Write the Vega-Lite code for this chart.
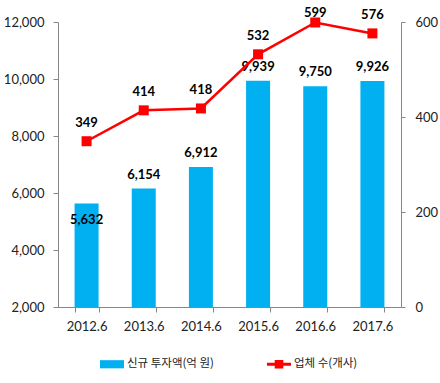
{
  "$schema": "https://vega.github.io/schema/vega-lite/v6.json",
  "width": 343,
  "height": 285,
  "autosize": {"type": "none"},
  "padding": {"left": 58, "top": 22, "right": 39, "bottom": 76},
  "data": {"values": [
    {"period": "2012.6", "invest": 5632, "firms": 349},
    {"period": "2013.6", "invest": 6154, "firms": 414},
    {"period": "2014.6", "invest": 6912, "firms": 418},
    {"period": "2015.6", "invest": 9939, "firms": 532},
    {"period": "2016.6", "invest": 9750, "firms": 599},
    {"period": "2017.6", "invest": 9926, "firms": 576}
  ]},
  "encoding": {
    "x": {
      "field": "period", "type": "nominal", "title": null,
      "scale": {"paddingInner": 0.58, "paddingOuter": 0.29},
      "axis": {"labelAngle": 0, "tickBand": "extent", "tickSize": 5, "labelPadding": 8, "domainColor": "#868686", "tickColor": "#868686"}
    }
  },
  "layer": [
    {
      "encoding": {
        "y": {
          "field": "invest", "type": "quantitative", "title": null,
          "scale": {"domain": [2000, 12000], "zero": false, "nice": false},
          "axis": {"orient": "left", "values": [2000, 4000, 6000, 8000, 10000, 12000], "labelExpr": "format(datum.value, ',')", "tickSize": 5, "labelPadding": 9, "domainColor": "#868686", "tickColor": "#868686"}
        }
      },
      "layer": [
        {
          "mark": {"type": "bar"},
          "encoding": {
            "y2": {"datum": 2000},
            "color": {
              "datum": "신규 투자액(억 원)", "type": "nominal",
              "scale": {"domain": ["신규 투자액(억 원)", "업체 수(개사)"], "range": ["#00b0f0", "#ff0000"]},
              "legend": {
                "orient": "none", "legendX": 42, "legendY": 330, "direction": "horizontal",
                "encode": {"symbols": {"update": {
                  "shape": {"signal": "datum.value == '업체 수(개사)' ? 'M-1,-0.12H1V0.12H-1Z M-0.36,-0.36H0.36V0.36H-0.36Z' : 'M-1,-0.34H1V0.34H-1Z'"},
                  "size": {"value": 576},
                  "fill": {"scale": "color", "field": "value"},
                  "strokeWidth": {"value": 0},
                  "opacity": {"value": 1}
                }}}
              }
            }
          }
        },
        {
          "transform": [{"filter": "datum.period != '2012.6'"}],
          "mark": {"type": "text", "dy": -14, "font": "Lato", "fontWeight": "bold", "fontSize": 13, "color": "#000"},
          "encoding": {"text": {"field": "invest", "type": "quantitative", "format": ","}}
        },
        {
          "transform": [{"filter": "datum.period == '2012.6'"}],
          "mark": {"type": "text", "dy": 17, "font": "Lato", "fontWeight": "bold", "fontSize": 13, "color": "#000"},
          "encoding": {"text": {"field": "invest", "type": "quantitative", "format": ","}}
        }
      ]
    },
    {
      "encoding": {
        "y": {
          "field": "firms", "type": "quantitative", "title": null,
          "scale": {"domain": [0, 600], "nice": false},
          "axis": {"orient": "right", "values": [0, 200, 400, 600], "tickSize": 4, "labelPadding": 10, "domainColor": "#868686", "tickColor": "#868686"}
        }
      },
      "layer": [
        {
          "mark": {"type": "line", "strokeWidth": 2.5},
          "encoding": {"color": {"datum": "업체 수(개사)", "type": "nominal"}}
        },
        {
          "mark": {"type": "point", "shape": "square", "filled": true, "size": 100, "color": "#ff0000", "opacity": 1}
        },
        {
          "transform": [{"filter": "datum.period != '2016.6'"}],
          "mark": {"type": "text", "dy": -18, "font": "Lato", "fontWeight": "bold", "fontSize": 13, "color": "#000"},
          "encoding": {"text": {"field": "firms", "type": "quantitative"}}
        },
        {
          "transform": [{"filter": "datum.period == '2016.6'"}],
          "mark": {"type": "text", "dy": -9, "font": "Lato", "fontWeight": "bold", "fontSize": 13, "color": "#000"},
          "encoding": {"text": {"field": "firms", "type": "quantitative"}}
        }
      ]
    }
  ],
  "resolve": {"scale": {"y": "independent"}},
  "config": {
    "view": {"stroke": null},
    "axis": {"grid": false, "labelFont": "Lato", "labelFontSize": 13, "labelColor": "#222", "domainWidth": 1},
    "legend": {
      "title": null,
      "labelFont": "Noto Sans CJK KR", "labelFontSize": 11.5, "labelColor": "#222",
      "symbolSize": 576, "labelOffset": 3, "columnPadding": 53
    }
  }
}
